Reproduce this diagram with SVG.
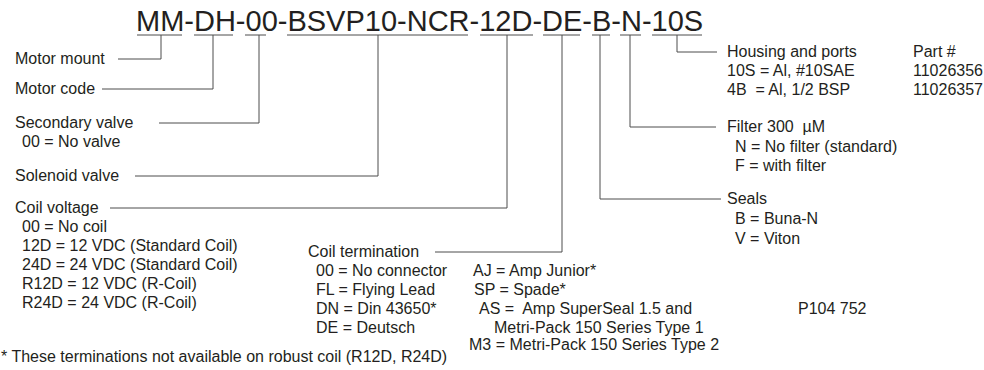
<svg xmlns="http://www.w3.org/2000/svg" width="984" height="370" viewBox="0 0 984 370">
<style>
text{font-family:"Liberation Sans",Arial,sans-serif;fill:#231f20;font-size:16px}
.title{font-size:29px}
.ln{stroke:#4d4d4d;stroke-width:1;fill:none}
</style>
<rect width="984" height="370" fill="#ffffff"/>
<g id="title">
<text class="title" x="136" y="31">MM-DH-00-BSVP10-NCR-12D-DE-B-N-10S</text>
</g>
<g id="connectors" class="ln">
<path d="M137 35H182M194 35H233M245 35H266M287 35H468M480 35H533M543 35H580M592 35H610M620 35H641M652 35H702"/>
<path d="M161 35V59H118"/>
<path d="M213 35V89H102"/>
<path d="M259 35V123H159"/>
<path d="M378 35V176H135"/>
<path d="M507 35V208H110"/>
<path d="M562 35V252H435"/>
<path d="M600 35V199H721"/>
<path d="M630 35V127H716"/>
<path d="M677 35V52H717"/>
</g>
<g id="motor-mount"><text x="15" y="64">Motor mount</text></g>
<g id="motor-code"><text x="15" y="94">Motor code</text></g>
<g id="secondary-valve"><text x="15" y="128">Secondary valve</text><text x="22" y="147">00 = No valve</text></g>
<g id="solenoid-valve"><text x="15" y="181">Solenoid valve</text></g>
<g id="coil-voltage"><text x="15" y="213">Coil voltage</text>
<text x="22" y="232">00 = No coil</text>
<text x="22" y="251">12D = 12 VDC (Standard Coil)</text>
<text x="22" y="270">24D = 24 VDC (Standard Coil)</text>
<text x="22" y="289">R12D = 12 VDC (R-Coil)</text>
<text x="22" y="308">R24D = 24 VDC (R-Coil)</text></g>
<g id="coil-termination"><text x="308" y="257">Coil termination</text>
<text x="316" y="276">00 = No connector</text>
<text x="316" y="295">FL = Flying Lead</text>
<text x="316" y="314">DN = Din 43650*</text>
<text x="316" y="333">DE = Deutsch</text>
<text x="473" y="276">AJ = Amp Junior*</text>
<text x="474" y="295">SP = Spade*</text>
<text x="479" y="314" xml:space="preserve">AS =  Amp SuperSeal 1.5 and</text>
<text x="494" y="333">Metri-Pack 150 Series Type 1</text>
<text x="469" y="350">M3 = Metri-Pack 150 Series Type 2</text>
<text x="798" y="314">P104 752</text></g>
<g id="footnote"><text x="1" y="362">* These terminations not available on robust coil (R12D, R24D)</text></g>
<g id="housing"><text x="727" y="57">Housing and ports</text><text x="913" y="57">Part #</text>
<text x="727" y="76">10S = Al, #10SAE</text><text x="913" y="76">11026356</text>
<text x="727" y="95" xml:space="preserve">4B  = Al, 1/2 BSP</text><text x="913" y="95">11026357</text></g>
<g id="filter"><text x="727" y="132" xml:space="preserve">Filter 300  µM</text>
<text x="735" y="152">N = No filter (standard)</text>
<text x="735" y="171">F = with filter</text></g>
<g id="seals"><text x="727" y="204">Seals</text>
<text x="735" y="224">B = Buna-N</text>
<text x="735" y="244">V = Viton</text></g>
</svg>
